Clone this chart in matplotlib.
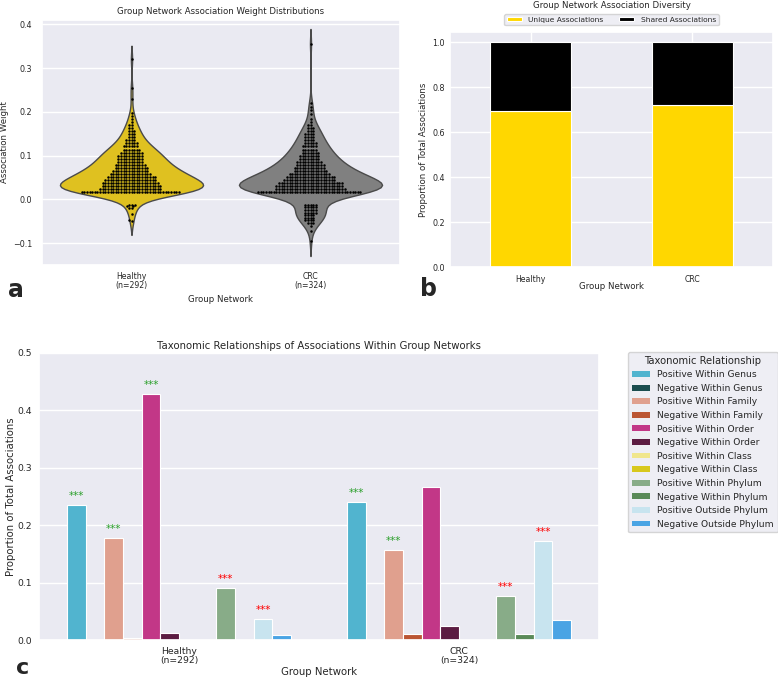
import numpy as np
import pandas as pd
import matplotlib
matplotlib.use('Agg')
import matplotlib.pyplot as plt
import seaborn as sns
from matplotlib.patches import Patch

# ---------------- data ----------------
groups = ['Healthy', 'CRC']
tick_labels_a = ['Healthy\n(n=292)', 'CRC\n(n=324)']
tick_labels_b = ['Healthy', 'CRC']

# association weights (value, count)
healthy_values = [-0.05, -0.048, -0.034, -0.02, -0.016, -0.012,
                  0.0165, 0.023, 0.030, 0.037, 0.044, 0.051, 0.058, 0.065, 0.072, 0.079,
                  0.086, 0.093, 0.100, 0.107, 0.114, 0.121, 0.128, 0.135, 0.142, 0.149,
                  0.156, 0.163, 0.170, 0.177, 0.184, 0.191, 0.198,
                  0.23, 0.255, 0.32]
healthy_counts = [1, 1, 1, 2, 2, 3,
                  38, 24, 23, 22, 20, 19, 16, 14, 13, 12,
                  10, 10, 10, 9, 7, 6, 5, 4, 3, 3,
                  3, 2, 2, 1, 1, 1, 1,
                  1, 1, 1]
crc_values = [-0.095, -0.072, -0.06, -0.054, -0.048, -0.042, -0.036, -0.03, -0.024, -0.018, -0.012,
              0.0165, 0.023, 0.030, 0.037, 0.044, 0.051, 0.058, 0.065, 0.072, 0.079,
              0.086, 0.093, 0.100, 0.107, 0.114, 0.121, 0.128, 0.135, 0.142, 0.149,
              0.156, 0.163, 0.170, 0.177, 0.184,
              0.195, 0.205, 0.212, 0.22, 0.355]
crc_counts = [1, 1, 1, 3, 4, 4, 4, 5, 5, 5, 5,
              40, 27, 26, 25, 20, 19, 16, 13, 12, 11,
              10, 8, 8, 7, 6, 6, 5, 4, 4, 4,
              3, 3, 2, 1, 1,
              1, 1, 1, 1, 1]

unique_prop = [0.693, 0.722]
shared_prop = [0.307, 0.278]

categories = ['Positive Within Genus', 'Negative Within Genus', 'Positive Within Family',
              'Negative Within Family', 'Positive Within Order', 'Negative Within Order',
              'Positive Within Class', 'Negative Within Class', 'Positive Within Phylum',
              'Negative Within Phylum', 'Positive Outside Phylum', 'Negative Outside Phylum']
healthy_props = [0.235, 0.0, 0.177, 0.003, 0.428, 0.012, 0.0, 0.0, 0.091, 0.0, 0.0365, 0.0093]
crc_props = [0.240, 0.0, 0.157, 0.0105, 0.266, 0.024, 0.0, 0.0, 0.076, 0.0105, 0.173, 0.0355]
cat_colors = ['#51b4cf', '#1b4d4f', '#e0a08e', '#bb5533', '#c23787', '#5c1c42',
              '#f0e68c', '#d8c81c', '#88ac88', '#5a8a58', '#c8e4ef', '#4aa4e4']
# significance marks: (group index, category index, colour)
sig_marks = [(0, 0, '#2ca02c'), (0, 2, '#2ca02c'), (0, 4, '#2ca02c'), (0, 8, 'red'), (0, 10, 'red'),
             (1, 0, '#2ca02c'), (1, 2, '#2ca02c'), (1, 8, 'red'), (1, 10, 'red')]

# ---------------- style ----------------
sns.set_theme(style='darkgrid')
plt.rcParams['font.family'] = ['DejaVu Sans']

W, H = 778, 678
fig = plt.figure(figsize=(W / 100, H / 100), dpi=100)

def ax_px(x0, y0, x1, y1):
    return fig.add_axes([x0 / W, 1 - y1 / H, (x1 - x0) / W, (y1 - y0) / H])

# ---------------- panel a ----------------
ax_a = ax_px(42, 20, 400, 265)
df = pd.DataFrame({
    'group': ['Healthy'] * sum(healthy_counts) + ['CRC'] * sum(crc_counts),
    'weight': list(np.repeat(healthy_values, healthy_counts)) + list(np.repeat(crc_values, crc_counts)),
})
sns.violinplot(data=df, x='group', y='weight', order=groups, hue='group', hue_order=groups,
               palette=['gold', 'gray'], inner=None, cut=2, density_norm='width',
               linewidth=1, linecolor='#4a4a4a', legend=False, ax=ax_a)
sns.swarmplot(data=df, x='group', y='weight', order=groups, color='black', size=1.8, ax=ax_a)
ax_a.set_xlim(-0.5, 1.5)
ax_a.set_ylim(-0.15, 0.41)
ax_a.set_xticks([0, 1])
ax_a.set_xticklabels(tick_labels_a, fontsize=5.6, linespacing=1.0)
ax_a.tick_params(axis='y', labelsize=5.8, length=0, pad=7)
ax_a.tick_params(axis='x', length=0, pad=5)
ax_a.set_xlabel('Group Network', fontsize=6.2)
ax_a.set_ylabel('Association Weight', fontsize=6.2)
ax_a.xaxis.set_label_coords(0.5, -0.122)
ax_a.yaxis.set_label_coords(-0.092, 0.5)
ax_a.set_title('Group Network Association Weight Distributions', fontsize=6.2, pad=4.5)
ax_a.grid(axis='x', visible=False)

# ---------------- panel b ----------------
ax_b = ax_px(450, 32, 773, 267)
xb = np.arange(len(groups))
ax_b.bar(xb, unique_prop, width=0.5, color='gold', edgecolor='white', linewidth=0.8,
         label='Unique Associations')
ax_b.bar(xb, shared_prop, width=0.5, bottom=unique_prop, color='black', edgecolor='white',
         linewidth=0.8, label='Shared Associations')
ax_b.set_xlim(-0.5, 1.5)
ax_b.set_ylim(0, 1.045)
ax_b.set_xticks(xb)
ax_b.set_xticklabels(tick_labels_b, fontsize=5.6)
ax_b.set_yticks([0, 0.2, 0.4, 0.6, 0.8, 1.0])
ax_b.tick_params(axis='y', labelsize=5.8, length=0, pad=3.5)
ax_b.tick_params(axis='x', length=0, pad=5.5)
ax_b.set_xlabel('Group Network', fontsize=6.2)
ax_b.set_ylabel('Proportion of Total Associations', fontsize=6.2)
ax_b.xaxis.set_label_coords(0.5, -0.064)
ax_b.yaxis.set_label_coords(-0.0666, 0.5)
ax_b.set_title('Group Network Association Diversity', fontsize=6.2, pad=17)
ax_b.legend(loc='lower center', bbox_to_anchor=(0.5, (267 - 25) / 235), ncol=2, fontsize=5.4,
            frameon=True, facecolor='#eaeaf2', edgecolor='#cccccc', borderpad=0.3,
            handlelength=2.0, handletextpad=0.9, columnspacing=2.1, handleheight=0.6,
            borderaxespad=0)

# ---------------- panel c ----------------
ax_c = ax_px(39, 353, 599, 640)
n = len(categories)
bw = 0.8 / n
for j, (cat, col) in enumerate(zip(categories, cat_colors)):
    vals = [healthy_props[j], crc_props[j]]
    pos = [i - 0.4 + bw * (j + 0.5) for i in range(len(groups))]
    ax_c.bar(pos, vals, width=bw, color=col, edgecolor='white', linewidth=0.8, label=cat)
for gi, ci, col in sig_marks:
    v = [healthy_props, crc_props][gi][ci]
    ax_c.text(gi - 0.4 + bw * (ci + 0.5), v + 0.007, '***', color=col, ha='center',
              va='bottom', fontsize=7.5)
ax_c.set_xlim(-0.5, 1.5)
ax_c.set_ylim(0, 0.5)
ax_c.set_xticks([0, 1])
ax_c.set_xticklabels(tick_labels_a, fontsize=6.7, linespacing=1.0)
ax_c.tick_params(axis='y', labelsize=6.7, length=0, pad=5)
ax_c.tick_params(axis='x', length=0, pad=5)
ax_c.set_xlabel('Group Network', fontsize=7.3)
ax_c.set_ylabel('Proportion of Total Associations', fontsize=7.3)
ax_c.xaxis.set_label_coords(0.5, -0.094)
ax_c.yaxis.set_label_coords(-0.041, 0.5)
ax_c.set_title('Taxonomic Relationships of Associations Within Group Networks', fontsize=7.3, pad=3)
ax_c.grid(axis='x', visible=False)
handles = [Patch(facecolor=c, edgecolor='none', label=l) for c, l in zip(cat_colors, categories)]
ax_c.legend(handles=handles, title='Taxonomic Relationship', loc='upper left',
            bbox_to_anchor=(628 / W, 1 - 352 / H), bbox_transform=fig.transFigure,
            fontsize=6.6, title_fontsize=7.2, frameon=True, facecolor='#eaeaf2',
            edgecolor='#cccccc', borderpad=0.4, labelspacing=0.5, handleheight=0.6,
            handlelength=2.0, borderaxespad=0)

# ---------------- panel labels ----------------
fig.text(16 / W, 1 - 297 / H, 'a', fontsize=17, fontweight='bold', ha='center', va='baseline')
fig.text(429 / W, 1 - 296 / H, 'b', fontsize=17, fontweight='bold', ha='center', va='baseline')
fig.text(23 / W, 1 - 674 / H, 'c', fontsize=16, fontweight='bold', ha='center', va='baseline')

fig.savefig('out.png', dpi=100)
